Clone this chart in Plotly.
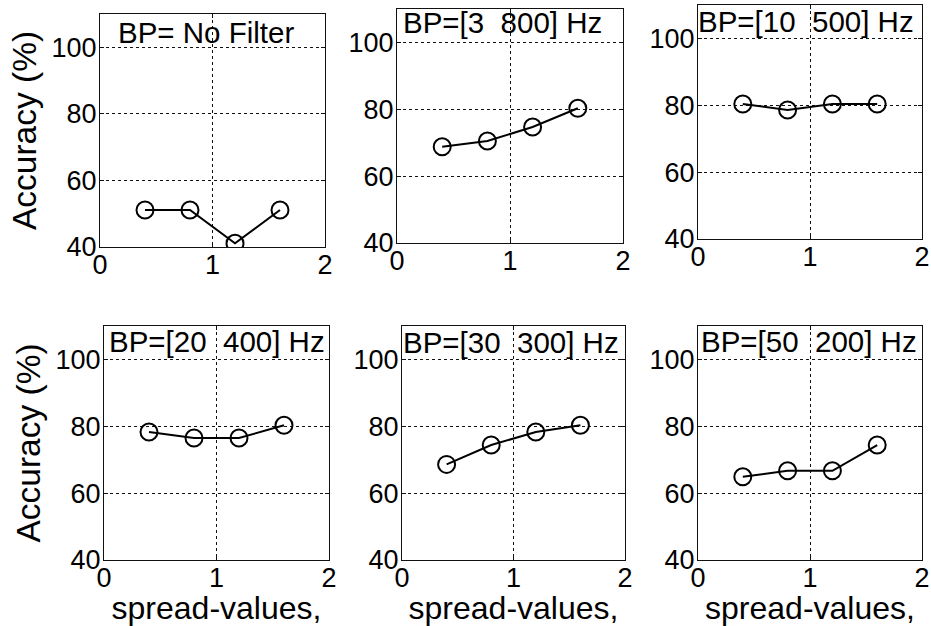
import plotly.graph_objects as go

# ---- data ----
spread = [0.4, 0.8, 1.2, 1.6]
titles = ["BP= No Filter", "BP=[3\u00a0\u00a0800] Hz", "BP=[10\u00a0\u00a0500] Hz",
          "BP=[20\u00a0\u00a0400] Hz", "BP=[30\u00a0\u00a0300] Hz", "BP=[50\u00a0\u00a0200] Hz"]
acc_nofilter = [51.1, 51.1, 41.1, 51.1]
acc_3_800 = [68.8, 70.5, 74.7, 80.3]
acc_10_500 = [80.4, 78.6, 80.4, 80.4]
acc_20_400 = [78.3, 76.5, 76.5, 80.3]
acc_30_300 = [68.6, 74.4, 78.3, 80.3]
acc_50_200 = [64.9, 66.7, 66.7, 74.4]
series = [acc_nofilter, acc_3_800, acc_10_500, acc_20_400, acc_30_300, acc_50_200]
x_ticks = [0, 1, 2]
y_ticks = [40, 60, 80, 100]
x_title = "spread-values,"
y_title = "Accuracy (%)"

# ---- layout geometry (pixels) ----
W, H = 931, 626
boxes = [  # left, right, top, bottom
    (100, 325, 14, 247),
    (397, 623, 9, 243),
    (698, 922, 5, 239),
    (104, 329, 326, 560),
    (402, 625, 326, 560),
    (698, 922, 326, 560),
]
title_dx = [16, 4, -2, 3, -1, 1]
title_dy = [9, 3.5, 6.5, 6.3, 7, 5.7]

FONT = "Liberation Sans, Arial, sans-serif"
fig = go.Figure()
layout = dict(
    width=W, height=H, margin=dict(l=0, r=0, t=0, b=0, autoexpand=False),
    paper_bgcolor="white", plot_bgcolor="white", showlegend=False,
    font=dict(family=FONT, color="black"),
)
annotations = []
for i, (ys, (l, r, t, b)) in enumerate(zip(series, boxes)):
    n = "" if i == 0 else str(i + 1)
    fig.add_trace(go.Scatter(
        x=spread, y=ys, mode="lines+markers",
        line=dict(color="black", width=2),
        marker=dict(symbol="circle-open", size=17, color="black", line=dict(width=2)),
        xaxis="x" + n, yaxis="y" + n, hoverinfo="skip"))
    common = dict(
        showline=True, linecolor="#111", linewidth=1, mirror="ticks",
        ticks="inside", ticklen=4, tickcolor="#111", automargin=False,
        showgrid=True, gridcolor="#111", gridwidth=1, griddash="3px,3px",
        zeroline=False, tickfont=dict(size=27, family=FONT, color="black"),
    )
    xa = dict(common, domain=[l / W, r / W], range=[0, 2], tickvals=x_ticks,
              anchor="y" + n, ticklabelstandoff=-6)
    ya = dict(common, domain=[1 - b / H, 1 - t / H], range=[40, 110],
              tickvals=y_ticks, anchor="x" + n, ticklabelstandoff=-3)
    if i >= 3:
        xa["title"] = dict(text=x_title, font=dict(size=32, family=FONT), standoff=14)
    if i in (0, 3):
        ya["title"] = dict(text=y_title, font=dict(size=33.5, family=FONT), standoff=4)
    layout["xaxis" + n] = xa
    layout["yaxis" + n] = ya
    annotations.append(dict(
        text=titles[i], xref="x" + n + " domain", yref="y" + n + " domain",
        x=title_dx[i] / (r - l), y=1 - (title_dy[i] - 9) / (b - t),
        xanchor="left", yanchor="top", showarrow=False,
        font=dict(size=29.5, family=FONT, color="black")))
layout["annotations"] = annotations
fig.update_layout(**layout)
fig.write_html("out.html")
